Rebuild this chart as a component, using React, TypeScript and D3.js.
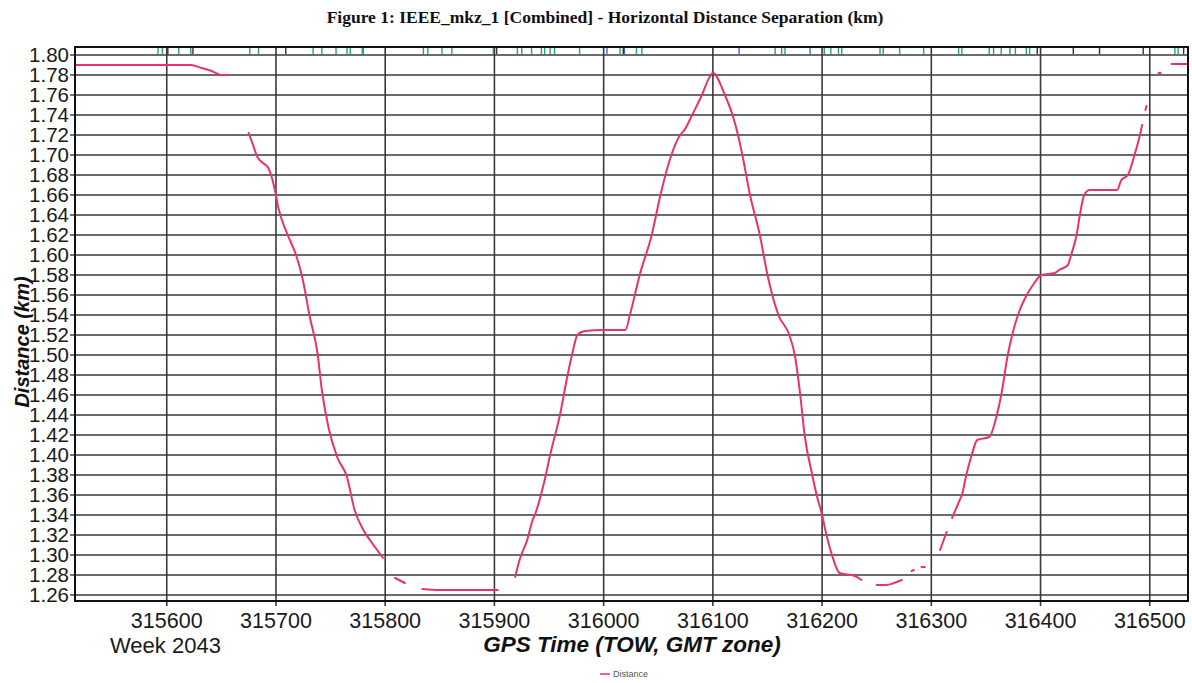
import React from "react";
import * as d3 from "d3";

// Horizontal distance separation, GPS time of week (s) vs km.
// Each segment is a continuous stretch of samples; gaps are dropouts.
const segStart: [number, number][] = [
  [315516, 1.79], [315622, 1.79], [315632, 1.787], [315641, 1.784],
  [315647, 1.781], [315650, 1.78], [315656, 1.78],
];
const segDescent: [number, number][] = [
  [315675, 1.722], [315679, 1.71], [315683, 1.698], [315688, 1.692],
  [315693, 1.687], [315699, 1.665], [315702, 1.648], [315710, 1.622],
  [315719, 1.598], [315724, 1.578], [315731, 1.538], [315738, 1.502],
  [315742, 1.465], [315748, 1.428], [315756, 1.398], [315765, 1.378],
  [315772, 1.345], [315780, 1.325], [315786, 1.315], [315792, 1.306],
  [315798, 1.297],
];
const segDash1: [number, number][] = [[315809, 1.277], [315818, 1.272]];
const segFloor: [number, number][] = [
  [315834, 1.266], [315850, 1.265], [315878, 1.265], [315903, 1.265],
];
const segPeak: [number, number][] = [
  [315919, 1.278], [315923, 1.295], [315930, 1.315], [315935, 1.335],
  [315937, 1.34], [315946, 1.375], [315951, 1.40], [315960, 1.44],
  [315967, 1.48], [315971, 1.50], [315976, 1.52], [315983, 1.524],
  [316000, 1.525], [316020, 1.525], [316024, 1.54], [316033, 1.58],
  [316044, 1.62], [316052, 1.66], [316062, 1.70], [316070, 1.72],
  [316074, 1.725], [316081, 1.74], [316090, 1.76], [316097, 1.778],
  [316100, 1.782], [316111, 1.76], [316118, 1.74], [316123, 1.72],
  [316127, 1.70], [316134, 1.66], [316143, 1.62], [316150, 1.58],
  [316160, 1.54], [316170, 1.52], [316175, 1.50], [316180, 1.46],
  [316184, 1.42], [316191, 1.38], [316195, 1.36], [316200, 1.34],
  [316204, 1.32], [316209, 1.30], [316216, 1.282], [316230, 1.279],
  [316236, 1.275],
];
const segTrough: [number, number][] = [
  [316250, 1.27], [316259, 1.27], [316266, 1.272], [316273, 1.275],
];
const segDots: [number, number][][] = [
  [[316282, 1.284], [316284, 1.285]],
  [[316291, 1.288], [316294, 1.288]],
];
const segClimbA: [number, number][] = [[316308, 1.305], [316314, 1.323]];
const segClimbB: [number, number][] = [
  [316319, 1.337], [316326, 1.355], [316328, 1.36], [316332, 1.38],
  [316337, 1.40], [316342, 1.415], [316353, 1.418], [316360, 1.44],
  [316364, 1.46], [316370, 1.50], [316374, 1.52], [316381, 1.545],
  [316385, 1.555], [316393, 1.57], [316401, 1.58], [316413, 1.582],
  [316417, 1.585], [316425, 1.59], [316428, 1.60], [316433, 1.62],
  [316436, 1.64], [316440, 1.66], [316445, 1.665], [316470, 1.665],
  [316474, 1.675], [316480, 1.68], [316486, 1.70], [316491, 1.72],
  [316493, 1.73],
];
const segTail: [number, number][][] = [
  [[316496, 1.745], [316497, 1.749]],
  [[316508, 1.782], [316510, 1.782]],
  [[316520, 1.791], [316535, 1.791]],
];

// Status markers along the top strip (TOW seconds)
const greenMarks = [
  315592, 315596, 315611, 315622, 315676, 315684, 315734, 315742, 315755,
  315765, 315768, 315779, 315780, 315835, 315839, 315852, 315861, 315899,
  315921, 315925, 315934, 315943, 315946, 315951, 315955, 315978, 316015,
  316030, 316035, 316157, 316163, 316166, 316202, 316208, 316215, 316218,
  316253, 316256, 316271, 316293, 316325, 316328, 316353, 316357, 316364,
  316372, 316377, 316387, 316390, 316523, 316526,
];
const blueMarks = [316003, 316019, 316124, 316189];
const darkMarks = [
  315601, 315624, 315709, 315902, 316018, 316397, 316430, 316454, 316494,
  316531,
];

const yTicks = [
  1.8, 1.78, 1.76, 1.74, 1.72, 1.7, 1.68, 1.66, 1.64, 1.62, 1.6, 1.58, 1.56,
  1.54, 1.52, 1.5, 1.48, 1.46, 1.44, 1.42, 1.4, 1.38, 1.36, 1.34, 1.32, 1.3,
  1.28, 1.26,
];
const xTicks = [
  315600, 315700, 315800, 315900, 316000, 316100, 316200, 316300, 316400,
  316500,
];

const W = 1192;
const H = 683;
const left = 75;
const right = 1188;
const stripTop = 47;
const plotTop = 55;
const bottom = 601;

export default function App() {
  const x = d3.scaleLinear().domain([315516, 316535]).range([left, right]);
  const y = d3.scaleLinear().domain([1.254, 1.8]).range([bottom, plotTop]);
  const line = d3
    .line<[number, number]>()
    .x((d) => x(d[0]))
    .y((d) => y(d[1]))
    .curve(d3.curveMonotoneX);

  const segments: [number, number][][] = [
    segStart, segDescent, segDash1, segFloor, segPeak, segTrough,
    ...segDots, segClimbA, segClimbB, ...segTail,
  ];

  const grid = "#3a3a3a";
  const font = "Arial, 'Liberation Sans', sans-serif";

  return (
    <svg
      width={W}
      height={H}
      style={{ position: "absolute", left: 0, top: 0, background: "#fff" }}
    >
      <text
        x={605}
        y={23}
        textAnchor="middle"
        fontFamily="'Liberation Serif', 'Times New Roman', serif"
        fontWeight="bold"
        fontSize={17.5}
        fill="#111"
      >
        Figure 1: IEEE_mkz_1 [Combined] - Horizontal Distance Separation (km)
      </text>

      {/* horizontal grid */}
      {yTicks.map((t) => (
        <g key={"y" + t}>
          <line x1={left} x2={right} y1={y(t)} y2={y(t)} stroke={grid} strokeWidth={1.6} />
          <line x1={left - 5} x2={left} y1={y(t)} y2={y(t)} stroke={grid} strokeWidth={1.4} />
          <text
            x={left - 6}
            y={y(t)}
            dy="0.36em"
            textAnchor="end"
            fontFamily={font}
            fontSize={20.5}
            fill="#1a1a1a"
          >
            {t.toFixed(2)}
          </text>
        </g>
      ))}

      {/* vertical grid */}
      {xTicks.map((t) => (
        <g key={"x" + t}>
          <line x1={x(t)} x2={x(t)} y1={stripTop} y2={bottom + 5} stroke={grid} strokeWidth={1.6} />
          <text
            x={x(t)}
            y={628}
            textAnchor="middle"
            fontFamily={font}
            fontSize={21.5}
            fill="#1a1a1a"
          >
            {t}
          </text>
        </g>
      ))}

      {/* status strip markers */}
      {greenMarks.map((t, i) => (
        <line key={"g" + i} x1={x(t)} x2={x(t)} y1={stripTop + 1} y2={plotTop - 1} stroke="#22a57c" strokeWidth={1.4} />
      ))}
      {blueMarks.map((t, i) => (
        <line key={"b" + i} x1={x(t)} x2={x(t)} y1={stripTop + 1} y2={plotTop - 1} stroke="#3a6fd0" strokeWidth={1.4} />
      ))}
      {darkMarks.map((t, i) => (
        <line key={"d" + i} x1={x(t)} x2={x(t)} y1={stripTop + 1} y2={plotTop - 1} stroke="#333" strokeWidth={1.4} />
      ))}

      {/* distance trace */}
      {segments.map((s, i) => (
        <path
          key={"s" + i}
          d={line(s) || ""}
          fill="none"
          stroke="#e8336c"
          strokeWidth={2}
          strokeLinejoin="round"
          strokeLinecap="round"
        />
      ))}

      {/* frame */}
      <rect
        x={left}
        y={stripTop}
        width={right - left}
        height={bottom - stripTop}
        fill="none"
        stroke="#111"
        strokeWidth={2}
      />

      <text
        transform={`translate(29, 342) rotate(-90)`}
        textAnchor="middle"
        fontFamily={font}
        fontWeight="bold"
        fontStyle="italic"
        fontSize={20}
        fill="#111"
      >
        Distance (km)
      </text>
      <text
        x={632}
        y={652}
        textAnchor="middle"
        fontFamily={font}
        fontWeight="bold"
        fontStyle="italic"
        fontSize={22.5}
        fill="#111"
      >
        GPS Time (TOW, GMT zone)
      </text>
      <text x={110} y={653} fontFamily={font} fontSize={22} fill="#1a1a1a">
        Week 2043
      </text>

      {/* legend */}
      <line x1={600} x2={610} y1={674} y2={674} stroke="#e8336c" strokeWidth={1.5} />
      <text x={613} y={677} fontFamily={font} fontSize={9} fill="#555">
        Distance
      </text>
    </svg>
  );
}
